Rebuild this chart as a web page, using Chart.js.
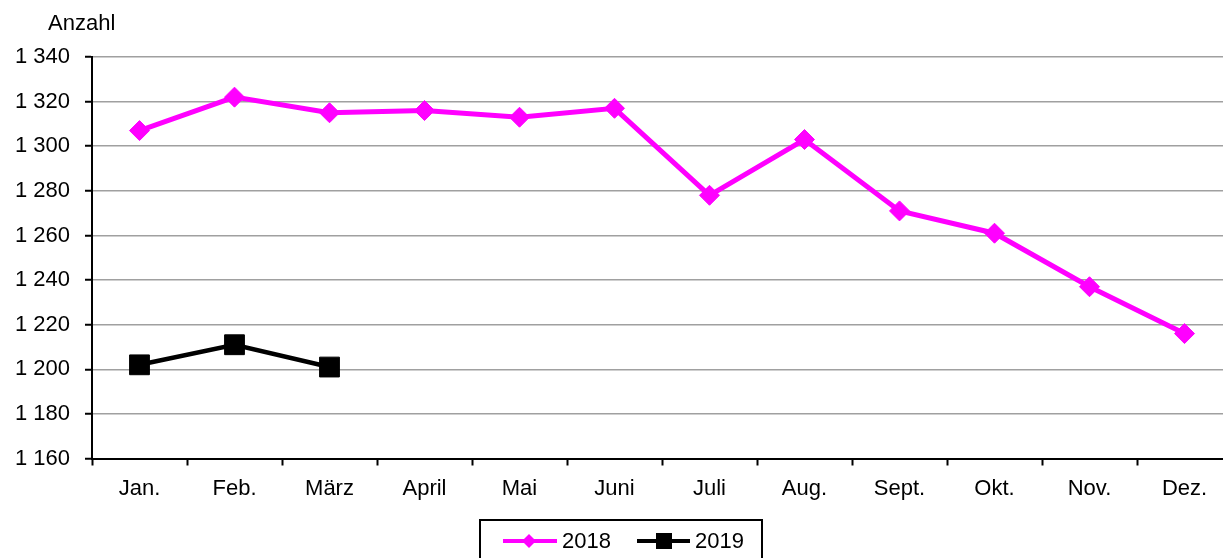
<!DOCTYPE html>
<html>
<head>
<meta charset="utf-8">
<script src="https://cdn.jsdelivr.net/npm/chart.js@4/dist/chart.umd.min.js"></script>
<style>
  html, body { margin: 0; padding: 0; background: #fff; overflow: hidden; }
  #wrap { width: 1247px; height: 558px; }
</style>
</head>
<body>
<div id="wrap">
  <canvas id="chart" width="1247" height="558"></canvas>
</div>
<script>
// Monatswerte
const monate = ['Jan.', 'Feb.', 'März', 'April', 'Mai', 'Juni', 'Juli', 'Aug.', 'Sept.', 'Okt.', 'Nov.', 'Dez.'];
const werte2018 = [1307, 1322, 1315, 1316, 1313, 1317, 1278, 1303, 1271, 1261, 1237, 1216];
const werte2019 = [1202, 1211, 1201];
const yMin = 1160;
const yMax = 1340;
const yStep = 20;

const PINK = '#ff00ff';
const FONT = '"Liberation Sans", Arial, sans-serif';

// Tausender mit Leerzeichen: 1 340
function formatZahl(v) {
  return String(v).replace(/\B(?=(\d{3})+(?!\d))/g, ' ');
}

// "Anzahl" oben links und Legende im Kasten unten
const beschriftung = {
  id: 'beschriftung',
  afterDraw(chart) {
    const ctx = chart.ctx;
    ctx.save();
    ctx.font = '22px ' + FONT;
    ctx.fillStyle = '#000';
    ctx.textBaseline = 'alphabetic';
    ctx.textAlign = 'left';
    ctx.fillText('Anzahl', 48, 30);

    // Legendenkasten
    ctx.strokeStyle = '#000';
    ctx.lineWidth = 2;
    ctx.beginPath();
    ctx.moveTo(480, 570);
    ctx.lineTo(480, 520);
    ctx.lineTo(762, 520);
    ctx.lineTo(762, 570);
    ctx.stroke();

    const ly = 541;
    // 2018
    ctx.strokeStyle = PINK;
    ctx.lineWidth = 4;
    ctx.beginPath();
    ctx.moveTo(503, ly);
    ctx.lineTo(557, ly);
    ctx.stroke();
    ctx.fillStyle = PINK;
    ctx.beginPath();
    ctx.moveTo(529, ly - 7);
    ctx.lineTo(536, ly);
    ctx.lineTo(529, ly + 7);
    ctx.lineTo(522, ly);
    ctx.closePath();
    ctx.fill();
    ctx.fillStyle = '#000';
    ctx.fillText(chart.data.datasets[0].label, 562, 548);

    // 2019
    ctx.strokeStyle = '#000';
    ctx.beginPath();
    ctx.moveTo(637, ly);
    ctx.lineTo(690, ly);
    ctx.stroke();
    ctx.fillRect(656, ly - 8, 16, 16);
    ctx.fillText(chart.data.datasets[1].label, 695, 548);
    ctx.restore();
  }
};

new Chart(document.getElementById('chart'), {
  type: 'line',
  data: {
    labels: monate,
    datasets: [
      {
        label: '2018',
        data: werte2018,
        borderColor: PINK,
        backgroundColor: PINK,
        borderWidth: 5,
        pointStyle: 'rectRot',
        pointRadius: 10,
        pointBorderWidth: 1,
        pointBackgroundColor: PINK,
        pointBorderColor: PINK,
        tension: 0
      },
      {
        label: '2019',
        data: werte2019,
        borderColor: '#000',
        backgroundColor: '#000',
        borderWidth: 4.5,
        pointStyle: 'rect',
        pointRadius: 14,
        pointBorderWidth: 1,
        pointBackgroundColor: '#000',
        pointBorderColor: '#000',
        tension: 0
      }
    ]
  },
  options: {
    responsive: false,
    animation: false,
    layout: { padding: { top: 57, left: 0, right: 0, bottom: 0 } },
    plugins: {
      legend: { display: false },
      tooltip: { enabled: false },
      title: { display: false }
    },
    scales: {
      x: {
        offset: true,
        afterFit(scale) {
          scale.height = 99.5;
          scale.paddingLeft = 0;
          scale.paddingRight = 0;
        },
        grid: {
          offset: true,
          drawOnChartArea: false,
          tickLength: 7,
          tickColor: '#000',
          tickWidth: 2,
          color: '#000'
        },
        border: { color: '#000', width: 2 },
        ticks: {
          color: '#000',
          padding: 10,
          font: { family: FONT, size: 22 }
        }
      },
      y: {
        min: yMin,
        max: yMax,
        afterFit(scale) { scale.width = 92; },
        grid: {
          color: '#a0a0a0',
          lineWidth: 1.5,
          tickLength: 7,
          tickColor: '#000',
          tickWidth: 2
        },
        border: { color: '#000', width: 2 },
        ticks: {
          stepSize: yStep,
          color: '#000',
          padding: 15,
          font: { family: FONT, size: 22 },
          callback: (v) => formatZahl(v)
        }
      }
    }
  },
  plugins: [beschriftung]
});
</script>
</body>
</html>
